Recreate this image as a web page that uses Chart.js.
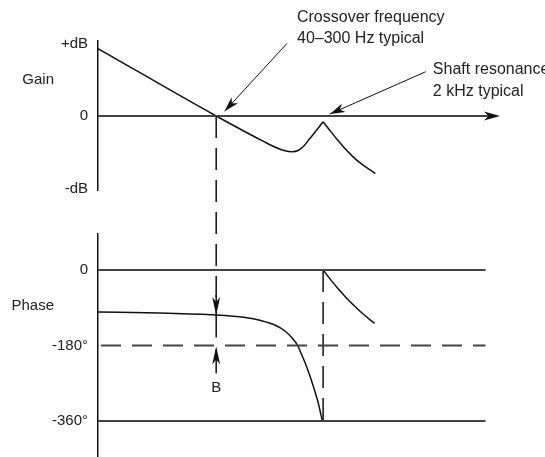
<!DOCTYPE html>
<html>
<head>
<meta charset="utf-8">
<script src="https://cdn.jsdelivr.net/npm/chart.js@4/dist/chart.umd.min.js"></script>
<style>
  html, body { margin: 0; padding: 0; background: #fff; }
  #wrap { position: relative; width: 545px; height: 457px; }
</style>
</head>
<body>
<div id="wrap"><canvas id="bode"></canvas></div>
<script>
// frequency runs in arbitrary log units: 0 = left axis, 100 = arrow tip
const gainRiseFreq = [0, 29.4, 41.3, 44.0, 46.5, 48.3, 49.75, 51.2, 52.7, 54.4, 56.0];
const gainRiseDb   = [0.93, 0, -0.354, -0.428, -0.480, -0.492, -0.476, -0.414, -0.310, -0.193, -0.079];
const gainFallFreq = [56.0, 57.7, 59.45, 61.2, 63.2, 65.2, 67.2, 69.0];
const gainFallDb   = [-0.079, -0.200, -0.321, -0.434, -0.549, -0.646, -0.726, -0.790];

const phaseFallFreq = [0, 15.4, 29.4, 36.6, 40.5, 44.0, 46.5, 48.3, 49.6, 50.7, 51.9, 53.6, 54.8, 55.8];
const phaseFallDeg  = [-100, -102.5, -107.3, -113.3, -120.4, -131.1, -145.4, -162.1, -178.8, -202.7, -230.6, -278.3, -317.8, -360];
const phaseDecayFreq = [56.0, 57.8, 59.8, 61.8, 63.8, 65.75, 67.7, 68.8];
const phaseDecayDeg  = [0, -22.4, -45.5, -66.8, -85.8, -103.2, -119.0, -127.1];

const gainTicks = [1, 0, -1];
const gainTickLabels = ['+dB', '0', '-dB'];
const phaseTicks = [0, -180, -360];
const phaseTickLabels = ['0', '-180°', '-360°'];

const crossoverFreq = 29.4;
const resonanceFreq = 56.0;
const lineEndFreq = 96.4;
const arrowTipFreq = 100;

// callouts: text anchor, arrow tail and arrow tip, in (freq, gain) units
const notes = [
  { lines: ['Crossover frequency', '40–300 Hz typical'], text: [49.5, 1.36], from: [47.0, 1.0], to: [31.5, 0.065] },
  { lines: ['Shaft resonance', '2 kHz typical'], text: [83.3, 0.634], from: [81.5, 0.61], to: [57.7, 0.028] }
];

const pts = (xs, ys) => xs.map((x, i) => ({ x: x, y: ys[i] }));
const crossPhase = phaseFallDeg[phaseFallFreq.indexOf(crossoverFreq)];
const FONT = '"Liberation Sans", Arial, sans-serif';

Chart.defaults.font.family = FONT;
Chart.defaults.font.size = 15;
Chart.defaults.color = '#222';

function arrowHead(ctx, tx, ty, angle, len, half) {
  ctx.save();
  ctx.translate(tx, ty);
  ctx.rotate(angle);
  ctx.beginPath();
  ctx.moveTo(0, 0);
  ctx.lineTo(-len, -half);
  ctx.lineTo(-len * 0.72, 0);
  ctx.lineTo(-len, half);
  ctx.closePath();
  ctx.fill();
  ctx.restore();
}

const extras = {
  id: 'extras',
  afterDatasetsDraw(chart) {
    const ctx = chart.ctx;
    const xs = chart.scales.x, yg = chart.scales.yGain, yp = chart.scales.yPhase;
    ctx.save();
    ctx.fillStyle = '#111';
    ctx.strokeStyle = '#111';

    // arrow at end of gain zero line
    arrowHead(ctx, xs.getPixelForValue(arrowTipFreq), yg.getPixelForValue(0), 0, 16, 4.5);

    // crossover drop line down to the phase plot
    const cx = xs.getPixelForValue(crossoverFreq);
    const yTop = yg.getPixelForValue(0);
    const yCurve = yp.getPixelForValue(crossPhase);
    const y180 = yp.getPixelForValue(-180);
    ctx.lineWidth = 1.5;
    ctx.setLineDash([22, 10]);
    ctx.beginPath();
    ctx.moveTo(cx, yTop);
    ctx.lineTo(cx, yCurve - 18);
    ctx.stroke();
    ctx.setLineDash([]);
    ctx.beginPath();
    ctx.moveTo(cx, yCurve - 20);
    ctx.lineTo(cx, y180 - 8);
    ctx.moveTo(cx, y180 + 4);
    ctx.lineTo(cx, yp.getPixelForValue(-246));
    ctx.stroke();
    arrowHead(ctx, cx, yCurve, Math.PI / 2, 18, 4);
    arrowHead(ctx, cx, y180 + 1, -Math.PI / 2, 18, 4);
    ctx.textAlign = 'center';
    ctx.textBaseline = 'middle';
    ctx.font = '15px ' + FONT;
    ctx.fillStyle = '#222';
    ctx.fillText('B', cx, yp.getPixelForValue(-281));

    // axis names
    ctx.textAlign = 'right';
    ctx.fillText('Gain', 54, yg.getPixelForValue(0.5));
    ctx.fillText('Phase', 54, yp.getPixelForValue(-86));

    // callouts
    ctx.lineWidth = 1;
    ctx.textAlign = 'left';
    ctx.font = '16px ' + FONT;
    notes.forEach(n => {
      const x0 = xs.getPixelForValue(n.from[0]), y0 = yg.getPixelForValue(n.from[1]);
      const x1 = xs.getPixelForValue(n.to[0]), y1 = yg.getPixelForValue(n.to[1]);
      ctx.beginPath();
      ctx.moveTo(x0, y0);
      ctx.lineTo(x1, y1);
      ctx.stroke();
      ctx.fillStyle = '#111';
      arrowHead(ctx, x1, y1, Math.atan2(y1 - y0, x1 - x0), 15, 4.5);
      ctx.fillStyle = '#222';
      const tx = xs.getPixelForValue(n.text[0]), ty = yg.getPixelForValue(n.text[1]);
      n.lines.forEach((s, i) => ctx.fillText(s, tx, ty + i * 21.5));
    });
    ctx.restore();
  }
};

const curve = { borderColor: '#111', borderWidth: 1.5, pointRadius: 0, cubicInterpolationMode: 'monotone', fill: false };
const ref = { borderColor: '#444', borderWidth: 2, pointRadius: 0, fill: false };

// stacked left axes: keep them 98px wide and stop tick labels from padding the chart area
const fitAxis = s => { s.width = 98; s.paddingTop = 0; s.paddingBottom = 0; };

new Chart(document.getElementById('bode'), {
  type: 'line',
  data: {
    datasets: [
      Object.assign({ label: 'Gain zero', data: pts([0, arrowTipFreq - 2], [0, 0]), yAxisID: 'yGain' }, ref),
      Object.assign({ label: 'Phase 0', data: pts([0, lineEndFreq], [0, 0]), yAxisID: 'yPhase' }, ref),
      Object.assign({ label: 'Phase -180', data: pts([0, lineEndFreq], [-180, -180]), yAxisID: 'yPhase', borderDash: [20, 11], borderDashOffset: -3 }, ref),
      Object.assign({ label: 'Phase -360', data: pts([0, lineEndFreq], [-360, -360]), yAxisID: 'yPhase' }, ref),
      Object.assign({ label: 'Resonance', data: pts([resonanceFreq, resonanceFreq], [0, -360]), yAxisID: 'yPhase' }, ref, { borderColor: '#111', borderWidth: 1.5, borderDash: [22, 10] }),
      Object.assign({ label: 'Gain', data: pts(gainRiseFreq, gainRiseDb), yAxisID: 'yGain' }, curve),
      Object.assign({ label: 'Gain (after peak)', data: pts(gainFallFreq, gainFallDb), yAxisID: 'yGain' }, curve),
      Object.assign({ label: 'Phase', data: pts(phaseFallFreq, phaseFallDeg), yAxisID: 'yPhase' }, curve),
      Object.assign({ label: 'Phase (after peak)', data: pts(phaseDecayFreq, phaseDecayDeg), yAxisID: 'yPhase' }, curve)
    ]
  },
  options: {
    responsive: true,
    maintainAspectRatio: false,
    animation: false,
    events: [],
    layout: { padding: { top: 41, right: 45, bottom: 0, left: 0 } },
    plugins: { legend: { display: false }, tooltip: { enabled: false } },
    scales: {
      x: { type: 'linear', min: 0, max: 100, display: false },
      yGain: {
        type: 'linear', position: 'left', stack: 'bode', stackWeight: 149, weight: 3,
        min: -1.02, max: 1.034,
        grid: { display: false, drawTicks: false },
        border: { display: true, color: '#111', width: 1.5 },
        afterFit: fitAxis,
        afterBuildTicks: s => { s.ticks = gainTicks.map(v => ({ value: v })); },
        ticks: { padding: 10, callback: v => gainTickLabels[gainTicks.indexOf(v)] }
      },
      ySpacer: {
        type: 'linear', position: 'left', stack: 'bode', stackWeight: 44, weight: 2,
        grid: { display: false, drawTicks: false },
        border: { display: false },
        ticks: { display: false },
        afterFit: fitAxis
      },
      yPhase: {
        type: 'linear', position: 'left', stack: 'bode', stackWeight: 223, weight: 1,
        min: -445.8, max: 85.8,
        grid: { display: false, drawTicks: false },
        border: { display: true, color: '#111', width: 1.5 },
        afterFit: fitAxis,
        afterBuildTicks: s => { s.ticks = phaseTicks.map(v => ({ value: v })); },
        ticks: { padding: 10, callback: v => phaseTickLabels[phaseTicks.indexOf(v)] }
      }
    }
  },
  plugins: [extras]
});
</script>
</body>
</html>
